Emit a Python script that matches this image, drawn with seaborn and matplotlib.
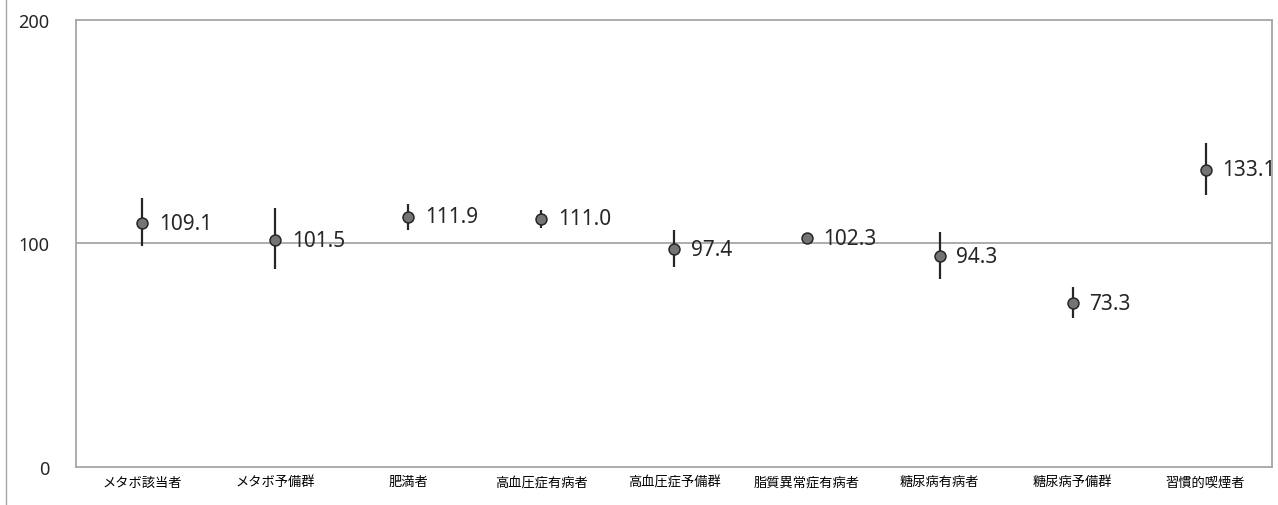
import matplotlib
matplotlib.use("Agg")
import matplotlib.pyplot as plt
import seaborn as sns
import pandas as pd
from matplotlib.lines import Line2D

# --- DATA ---
categories = ['メタボ該当者', 'メタボ予備群', '肥満者', '高血圧症有病者', '高血圧症予備群',
              '脂質異常症有病者', '糖尿病有病者', '糖尿病予備群', '習慣的喫煙者']
values = [109.1, 101.5, 111.9, 111.0, 97.4, 102.3, 94.3, 73.3, 133.1]
upper = [120.2, 115.7, 117.5, 115.0, 106.0, 103.6, 105.3, 80.4, 145.0]
lower = [98.7, 88.6, 106.0, 106.8, 89.3, 101.0, 84.1, 66.5, 121.8]
y_ticks = [0, 100, 200]

df = pd.DataFrame({'cat': categories, 'val': values, 'hi': upper, 'lo': lower})

sns.set_theme(style='white')
plt.rcParams['font.family'] = ['Noto Sans', 'Noto Sans CJK JP', 'DejaVu Sans']

fig = plt.figure(figsize=(12.78, 5.06), dpi=100)
ax = fig.add_axes([0.0595, 0.0751, 0.9358, 0.8834])

# reference line at 100
ax.axhline(100, color='#a6a6a6', lw=1.3, zorder=1)

# error bars
ax.errorbar(df['cat'], df['val'],
            yerr=[df['val'] - df['lo'], df['hi'] - df['val']],
            fmt='none', ecolor='#262626', elinewidth=1.6, capsize=0, zorder=2)

sns.scatterplot(data=df, x='cat', y='val', ax=ax, s=62, color='#747474',
                edgecolor='#262626', linewidth=1.1, zorder=3, legend=False)

for i, v in enumerate(values):
    ax.annotate(f"{v:.1f}", (i, v), xytext=(12, 0), textcoords='offset points',
                va='center', ha='left', fontsize=15, color='#262626')

ax.set_xlim(-0.5, len(categories) - 0.5)
ax.set_ylim(0, 200)
ax.set_yticks(y_ticks)
ax.set_xlabel('')
ax.set_ylabel('')
ax.tick_params(axis='y', length=0, pad=19, labelsize=13, labelcolor='#262626')
ax.tick_params(axis='x', length=0, pad=6)
for lab in ax.get_xticklabels():
    lab.set_fontfamily(['Noto Sans CJK JP', 'DejaVu Sans'])
    lab.set_fontsize(9.5)
    lab.set_color('#000000')

for sp in ax.spines.values():
    sp.set_color('#a6a6a6')
    sp.set_linewidth(1.3)

# thin border at left edge of the figure
fig.add_artist(Line2D([6 / 1278, 6 / 1278], [0, 1], transform=fig.transFigure,
                      color='#a6a6a6', lw=1.0))

fig.savefig('out.png', dpi=100)
